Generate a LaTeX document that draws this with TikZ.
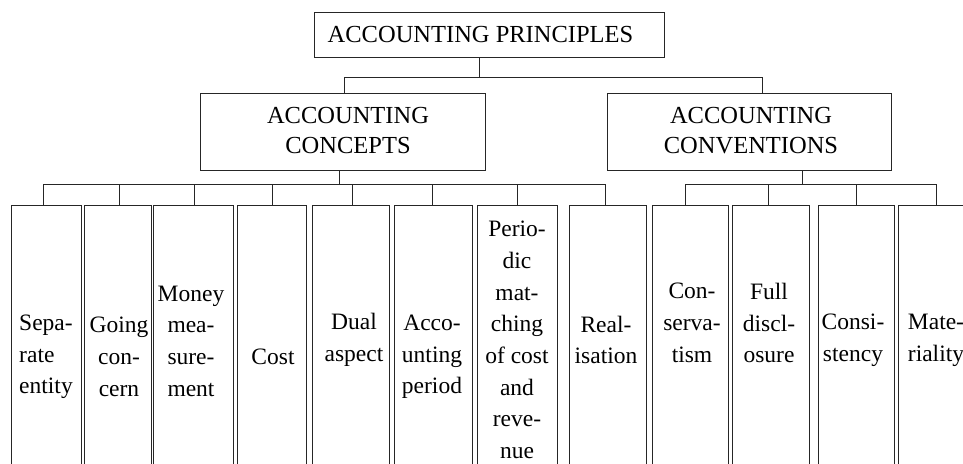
\documentclass[tikz,border=0pt]{standalone}
\usepackage{fontspec}
\setmainfont{Liberation Serif}
\begin{document}
\begin{tikzpicture}[x=1pt,y=-1pt,
  ln/.style={line width=1pt, draw=black!85},
  box/.style={draw=black!85, line width=1.1pt, inner sep=0pt, anchor=north west},
  leafbox/.style={box, minimum height=290pt},
  hd/.style={font=\fontsize{24.5}{30}\selectfont, align=center, inner sep=0pt},
  lf/.style={font=\fontsize{23.5}{31.7}\selectfont, align=center, inner sep=0pt}]
\useasboundingbox (0,0) rectangle (963,463);
\clip (0,0) rectangle (963,463);
\fill[white] (0,0) rectangle (963,463);

% header boxes
\node[box, minimum width=350pt, minimum height=45pt] (top) at (314,12) {};
\node[hd] (ttop) at (480.5,34.5) {ACCOUNTING PRINCIPLES};
\node[box, minimum width=285pt, minimum height=77pt] (cpt) at (200,93) {};
\node[hd] (tcpt) at (348,131) {ACCOUNTING\\CONCEPTS};
\node[box, minimum width=284pt, minimum height=77pt] (cnv) at (607,93) {};
\node[hd] (tcnv) at (751,131) {ACCOUNTING\\CONVENTIONS};

% leaf boxes
\node[leafbox, minimum width=70pt] (b1) at (11,205) {};
\node[leafbox, minimum width=67pt] (b2) at (84,205) {};
\node[leafbox, minimum width=80pt] (b3) at (153,205) {};
\node[leafbox, minimum width=69pt] (b4) at (237,205) {};
\node[leafbox, minimum width=77pt] (b5) at (312,205) {};
\node[leafbox, minimum width=78pt] (b6) at (394,205) {};
\node[leafbox, minimum width=80pt] (b7) at (477,205) {};
\node[leafbox, minimum width=77pt] (b8) at (569,205) {};
\node[leafbox, minimum width=76pt] (b9) at (652,205) {};
\node[leafbox, minimum width=77pt] (b10) at (732,205) {};
\node[leafbox, minimum width=76pt] (b11) at (818,205) {};
\node[leafbox, minimum width=77pt] (b12) at (898,205) {};

% leaf texts
\node[lf, align=left] (t1) at (46,357) {Sepa-\\rate\\entity};
\node[lf] (t2) at (119,357) {Going\\con-\\cern};
\node[lf] (t3) at (191,341) {Money\\mea-\\sure-\\ment};
\node[lf] (t4) at (273,357) {Cost};
\node[lf] (t5) at (354,340) {Dual\\aspect};
\node[lf] (t6) at (432,357) {Acco-\\unting\\period};
\node[lf] (t7) at (517,340) {Perio-\\dic\\mat-\\ching\\of cost\\and\\reve-\\nue};
\node[lf] (t8) at (606,340) {Real-\\isation};
\node[lf] (t9) at (692,323) {Con-\\serva-\\tism};
\node[lf] (t10) at (769,323) {Full\\discl-\\osure};
\node[lf] (t11) at (853,340) {Consi-\\stency};
\node[lf, align=left] (t12) at (936,340) {Mate-\\riality};

% top level connectors
\coordinate (j0) at (479,77);
\coordinate (jl) at (344,77);
\coordinate (jr) at (762,77);
\draw[ln] (top.south -| j0) -- (j0);
\draw[ln] (cpt.north -| jl) -- (jl) -- (jr) -- (cnv.north -| jr);

% concepts bus
\coordinate (sc) at (339,184);
\draw[ln] (cpt.south -| sc) -- (sc);
\foreach \x [count=\i] in {43,119,194,272,352,432,517,605} {
  \coordinate (d\i) at (\x,184);
  \draw[ln] (d\i) -- (b\i.north -| d\i);
}
\draw[ln] (d1) -- (d8);

% conventions bus
\coordinate (sv) at (802,184);
\draw[ln] (cnv.south -| sv) -- (sv);
\foreach \x [count=\i from 9] in {685,768,856,936} {
  \coordinate (d\i) at (\x,184);
  \draw[ln] (d\i) -- (b\i.north -| d\i);
}
\draw[ln] (d9) -- (d12);
\end{tikzpicture}
\end{document}
